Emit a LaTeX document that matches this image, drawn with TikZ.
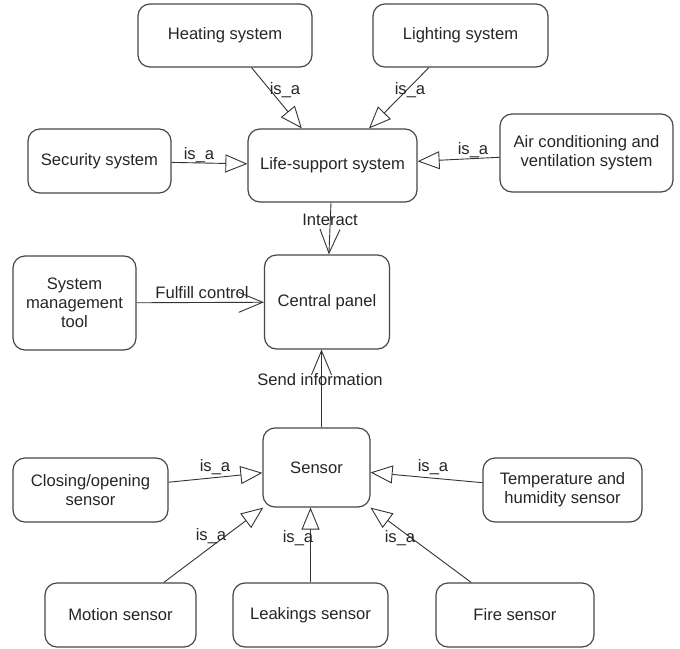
\documentclass[tikz,border=0pt]{standalone}
\usepackage{fontspec}
\setmainfont{Liberation Sans}
\usetikzlibrary{arrows.meta}
\begin{document}
\begin{tikzpicture}[x=1pt,y=-1pt,
  box/.style={draw=black!72, line width=1.2pt, rounded corners=12pt, align=center,
    font=\fontsize{16.6}{19}\selectfont, text=black!85, inner sep=0pt},
  lbl/.style={font=\fontsize{16.6}{19}\selectfont, text=black!85, inner sep=0pt},
  isa/.style={draw=black!80, line width=0.9pt, -{Triangle[open, length=22pt, width=18pt, line width=0.9pt]}},
  rel/.style={draw=black!80, line width=0.9pt, -{Straight Barb[length=24pt, width=20pt, line width=0.9pt]}}
]
\fill[white] (0,0) rectangle (680,648);
\useasboundingbox (0,0) rectangle (680,648);

\node[box, minimum width=174pt, minimum height=63pt] (heat) at (225,35.5) {Heating system};
\node[box, minimum width=175pt, minimum height=63pt] (light) at (460.5,35.5) {Lighting system};
\node[box, minimum width=143pt, minimum height=64pt] (sec) at (99.5,161) {Security system};
\node[box, minimum width=169pt, minimum height=73pt] (life) at (332.5,165.5) {Life-support system};
\node[box, minimum width=173pt, minimum height=78pt] (air) at (586.5,153) {Air conditioning and\\ventilation system};
\node[box, minimum width=123pt, minimum height=94pt] (mgmt) at (74.5,303) {System\\management\\tool};
\node[box, minimum width=125pt, minimum height=94pt] (central) at (327,302) {Central panel};
\node[box, minimum width=107pt, minimum height=79pt] (sensor) at (316.5,467.5) {Sensor};
\node[box, minimum width=155pt, minimum height=64pt] (close) at (90.5,490) {Closing/opening\\sensor};
\node[box, minimum width=159pt, minimum height=64pt] (temp) at (562.5,490) {Temperature and\\humidity sensor};
\node[box, minimum width=151pt, minimum height=64pt] (motion) at (120.5,615) {Motion sensor};
\node[box, minimum width=155pt, minimum height=64pt] (leak) at (310.5,615) {Leakings sensor};
\node[box, minimum width=158pt, minimum height=64pt] (fire) at (515,615) {Fire sensor};

% is_a relations to Life-support system
\draw[isa] (heat) -- (life);
\draw[isa] (light) -- (life);
\draw[isa] (sec) -- (life);
\draw[isa] (air) -- (life);
% associations
\draw[rel] (life) -- (central);
\draw[rel] (mgmt) -- (central);
\draw[rel] ([xshift=5pt]sensor.north) -- ([xshift=5pt]sensor.north |- central.south);
% is_a relations to Sensor
\draw[isa] (close) -- (sensor);
\draw[isa] (temp) -- (sensor);
\draw[isa] (motion) -- (sensor);
\draw[isa] (leak.north) -- (leak.north |- sensor.south);
\draw[isa] (fire) -- (sensor);

% labels
\node[lbl] (l1) at (285,90) {is\_a};
\node[lbl] (l2) at (410,90) {is\_a};
\node[lbl] (l3) at (199,155) {is\_a};
\node[lbl] (l4) at (473,150) {is\_a};
\node[lbl] (l5) at (330,220) {Interact};
\node[lbl] (l6) at (202,293) {Fulfill control};
\node[lbl] (l7) at (320,380) {Send information};
\node[lbl] (l8) at (215,467) {is\_a};
\node[lbl] (l9) at (433,467) {is\_a};
\node[lbl] (l10) at (211,536) {is\_a};
\node[lbl] (l11) at (298,538) {is\_a};
\node[lbl] (l12) at (400,538) {is\_a};
\end{tikzpicture}
\end{document}
